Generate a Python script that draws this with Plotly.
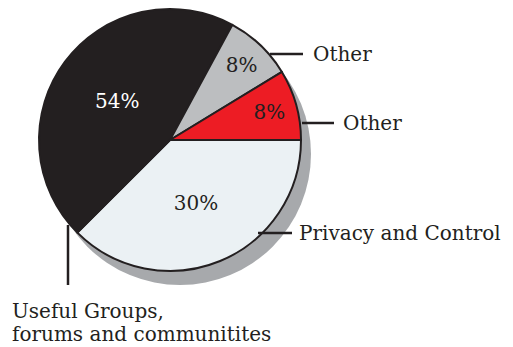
import plotly.graph_objects as go

# Slice data (drawn shares) and printed labels
categories = ["Privacy and Control", "Useful Groups, forums and communitites", "Other", "Other"]
slice_shares = [37.5, 45.4, 8.4, 8.7]
printed_pct = ["30%", "54%", "8%", "8%"]
slice_colors = ["#ebf1f4", "#231f20", "#bcbec0", "#ed1c24"]
text_colors = ["#231f20", "#ffffff", "#231f20", "#231f20"]

W, H = 513, 347
FONT = "DejaVu Serif"
INK = "#231f20"


def px(x):
    return x / W


def py(y):
    return 1 - y / H


# unique slice ids so the two "Other" slices stay separate
slice_ids = [f"{i}: {c}" for i, c in enumerate(categories)]

fig = go.Figure()

# shadow disc (offset to lower right)
fig.add_trace(go.Pie(
    values=[1], labels=["shadow"], marker=dict(colors=["#a7a9ac"], line=dict(width=0)),
    textinfo="none", hoverinfo="skip", sort=False,
    domain=dict(x=[px(49), px(311)], y=[py(285), py(23)]),
))

fig.add_trace(go.Pie(
    labels=slice_ids, values=slice_shares, text=printed_pct,
    textinfo="text", textposition="inside", insidetextorientation="horizontal",
    insidetextfont=dict(family=FONT, size=20, color=text_colors),
    marker=dict(colors=slice_colors, line=dict(color=INK, width=2)),
    sort=False, direction="clockwise", rotation=90,
    domain=dict(x=[px(39), px(301)], y=[py(271), py(9)]),
    hoverinfo="skip",
))

lines = [
    ((270, 54), (303, 54)),
    ((302, 123), (334, 123)),
    ((258, 233), (292, 233)),
    ((68, 225), (68, 285)),
]
for (x0, y0), (x1, y1) in lines:
    fig.add_shape(type="line", xref="paper", yref="paper",
                  x0=px(x0), y0=py(y0), x1=px(x1), y1=py(y1),
                  line=dict(color=INK, width=2.5))

labels_out = [
    ("Other", 311, 54),
    ("Other", 341, 123),
    ("Privacy and Control", 297, 233),
    ("Useful Groups,", 10, 311),
    ("forums and communitites", 10, 334),
]
for txt, x, y in labels_out:
    fig.add_annotation(text=txt, xref="paper", yref="paper", x=px(x), y=py(y),
                       xanchor="left", yanchor="middle", showarrow=False, align="left",
                       font=dict(family=FONT, size=20, color=INK))

fig.update_layout(
    width=W, height=H, margin=dict(l=0, r=0, t=0, b=0),
    paper_bgcolor="white", plot_bgcolor="white", showlegend=False,
)

fig.write_html("out.html")
